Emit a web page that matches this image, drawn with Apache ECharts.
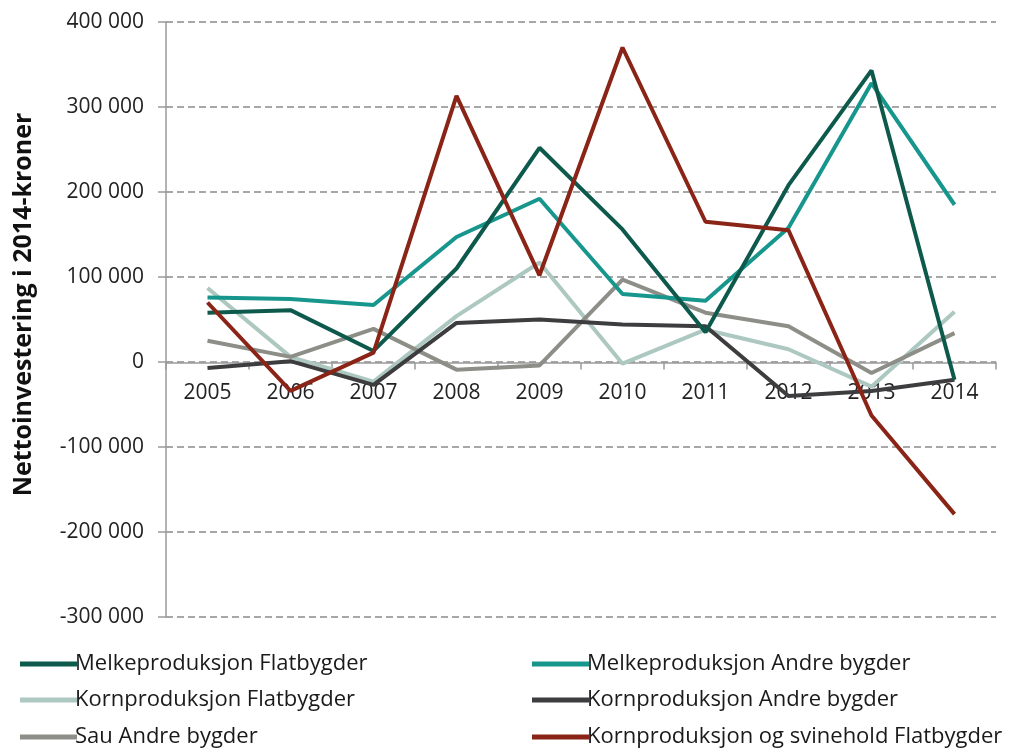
<!DOCTYPE html>
<html>
<head>
<meta charset="utf-8">
<script src="https://cdn.jsdelivr.net/npm/echarts@6/dist/echarts.min.js"></script>
<style>
  html, body { margin: 0; padding: 0; background: #fff; }
  #chart { width: 1011px; height: 752px; }
</style>
</head>
<body>
<div id="chart"></div>
<script>
// kategorier og verdier
const years = ['2005', '2006', '2007', '2008', '2009', '2010', '2011', '2012', '2013', '2014']

const melkeFlat  = [58000, 61000, 13000, 110000, 252000, 156000, 35000, 208000, 343000, -21000]
const melkeAndre = [76000, 74000, 67000, 147000, 192000, 80000, 72000, 158000, 328000, 185000]
const kornFlat   = [87000, 6000, -23000, 54000, 117000, -2000, 38000, 15000, -29000, 59000]
const kornAndre  = [-7000, 1000, -27000, 46000, 50000, 44000, 42000, -40000, -34000, -21000]
const sauAndre   = [25000, 6000, 39000, -9000, -4000, 97000, 58000, 42000, -13000, 34000]
const kornSvin   = [70000, -34000, 11000, 313000, 102000, 370000, 165000, 155000, -63000, -179000]

const yTicks = [400000, 300000, 200000, 100000, 0, -100000, -200000, -300000]

const names = {
  melkeFlat: 'Melkeproduksjon Flatbygder',
  melkeAndre: 'Melkeproduksjon Andre bygder',
  kornFlat: 'Kornproduksjon Flatbygder',
  kornAndre: 'Kornproduksjon Andre bygder',
  sauAndre: 'Sau Andre bygder',
  kornSvin: 'Kornproduksjon og svinehold Flatbygder'
}

const colors = {
  melkeFlat: '#0d5a4d',
  melkeAndre: '#17968d',
  kornFlat: '#adc8c0',
  kornAndre: '#3d3d3f',
  sauAndre: '#8e8e89',
  kornSvin: '#8a2416'
}

const fmt = (v) => {
  const s = String(Math.abs(v)).replace(/\B(?=(\d{3})+(?!\d))/g, ' ')
  return (v < 0 ? '-' : '') + s
}

const mkSeries = (key, data) => ({
  name: names[key],
  type: 'line',
  data: data,
  symbol: 'none',
  lineStyle: { color: colors[key], width: 4 },
  itemStyle: { color: colors[key] },
  z: 3
})

// en legende per post, to kolonner
const mkLegend = (key, left, top) => ({
  left: left,
  top: top,
  data: [names[key]],
  itemWidth: 57,
  itemHeight: 5,
  itemGap: 0,
  icon: 'rect',
  textStyle: {
    fontFamily: '"Open Sans", sans-serif',
    fontSize: 22,
    color: '#1a1a1a',
    padding: [0, 0, 0, -7]
  }
})

const chart = echarts.init(document.getElementById('chart'))

const option = {
  backgroundColor: '#ffffff',
  animation: false,
  grid: { left: 166, right: 15, top: 22, height: 595 },
  legend: [
    mkLegend('melkeFlat', 15, 648),
    mkLegend('kornFlat', 15, 684),
    mkLegend('sauAndre', 15, 721),
    mkLegend('melkeAndre', 527, 648),
    mkLegend('kornAndre', 527, 684),
    mkLegend('kornSvin', 527, 721)
  ],
  xAxis: {
    type: 'category',
    data: years,
    boundaryGap: true,
    offset: -254.5,
    axisLine: { onZero: false, lineStyle: { color: '#9a9a9a', width: 1.5 } },
    axisTick: { show: true, length: 7, inside: false, lineStyle: { color: '#9a9a9a', width: 1.5 } },
    axisLabel: {
      margin: 20,
      fontFamily: '"Open Sans", sans-serif',
      fontSize: 21,
      color: '#222'
    },
    splitLine: { show: false }
  },
  yAxis: {
    type: 'value',
    min: -300000,
    max: 400000,
    interval: 100000,
    name: 'Nettoinvestering i 2014-kroner',
    nameLocation: 'middle',
    nameGap: 130,
    nameTextStyle: {
      fontFamily: '"Open Sans", sans-serif',
      fontWeight: 'bold',
      fontSize: 25,
      color: '#111',
      padding: [0, 0, 0, 30]
    },
    axisLine: { show: true, lineStyle: { color: '#9a9a9a', width: 1.5 } },
    axisTick: { show: true, length: 8, lineStyle: { color: '#9a9a9a', width: 1.5 } },
    axisLabel: {
      margin: 22,
      fontFamily: '"Open Sans", sans-serif',
      fontSize: 21,
      color: '#222',
      formatter: (v) => yTicks.includes(v) ? fmt(v) : ''
    },
    splitLine: {
      show: true,
      lineStyle: { color: '#8a8a8a', width: 1.5, type: [7, 4] }
    }
  },
  series: [
    mkSeries('kornFlat', kornFlat),
    mkSeries('sauAndre', sauAndre),
    mkSeries('kornAndre', kornAndre),
    mkSeries('melkeAndre', melkeAndre),
    mkSeries('melkeFlat', melkeFlat),
    mkSeries('kornSvin', kornSvin)
  ]
}

chart.setOption(option)
</script>
</body>
</html>
